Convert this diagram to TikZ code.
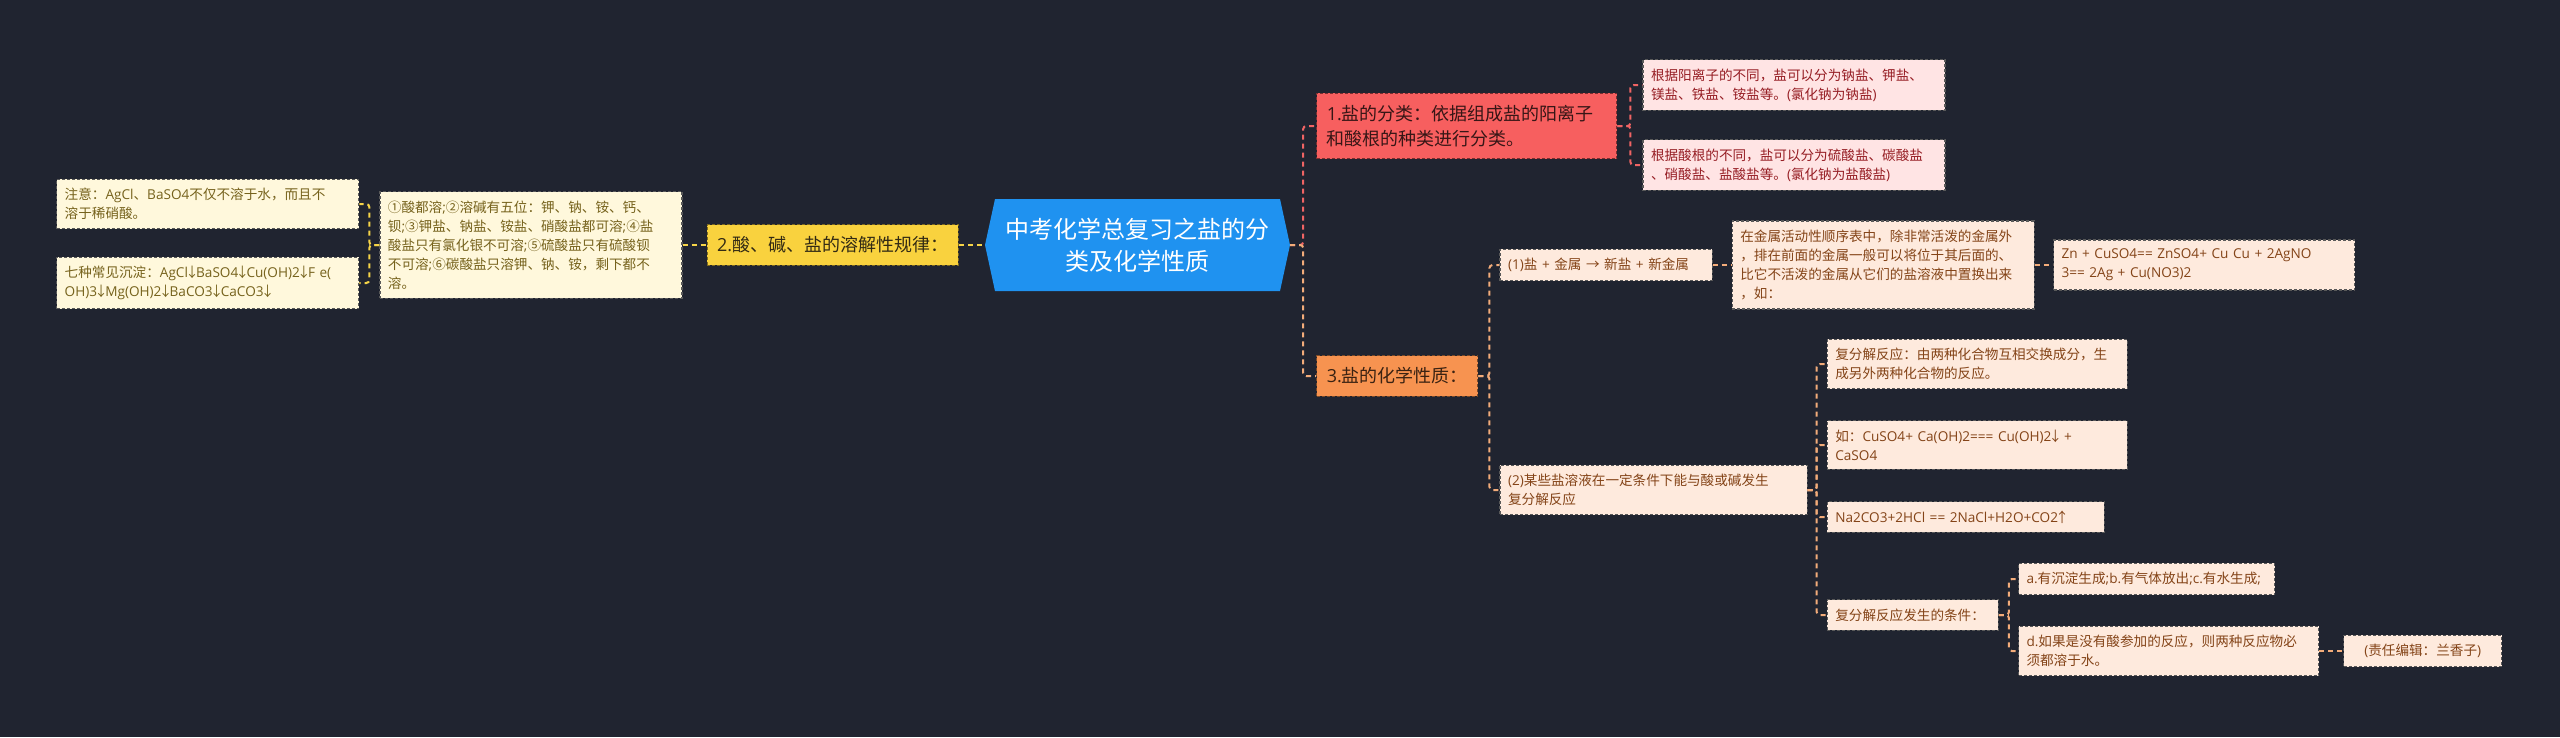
\documentclass[tikz,border=0pt]{standalone}
\usepackage{fontspec}
\setmainfont{Open Sans}
\newfontfamily\cjkfont{Noto Sans CJK SC}
\newfontfamily\latinfont{Open Sans}
\usepackage{tikz}
\usetikzlibrary{positioning}
\usepackage{xcolor}

% switch to the CJK family for Chinese characters, punctuation and arrows
\chardef\cjkcls=10
\newcount\cjkcnt
\def\setcjkrange#1#2{\cjkcnt=#1\relax
  \loop \XeTeXcharclass\cjkcnt=\cjkcls
  \ifnum\cjkcnt<#2\relax \advance\cjkcnt by 1 \repeat}
\setcjkrange{"2190}{"21FF}
\setcjkrange{"2460}{"24FF}
\setcjkrange{"3000}{"303F}
\setcjkrange{"4E00}{"9FFF}
\setcjkrange{"FF00}{"FFEF}
\XeTeXinterchartoks 0 \cjkcls = {\cjkfont}
\XeTeXinterchartoks 4095 \cjkcls = {\cjkfont}
\XeTeXinterchartoks \cjkcls 0 = {\latinfont}
\XeTeXinterchartoks \cjkcls 4095 = {\latinfont}
\XeTeXinterchartokenstate=1

\definecolor{bgnavy}{RGB}{32,36,48}
\definecolor{rootblue}{RGB}{31,146,240}
\definecolor{yfill}{RGB}{249,210,62}
\definecolor{ytext}{RGB}{50,42,20}
\definecolor{yleaf}{RGB}{255,248,220}
\definecolor{yleaftext}{RGB}{118,98,28}
\definecolor{yline}{RGB}{246,212,72}
\definecolor{rfill}{RGB}{247,95,95}
\definecolor{rtext}{RGB}{55,22,22}
\definecolor{rleaf}{RGB}{255,228,228}
\definecolor{rleaftext}{RGB}{150,30,36}
\definecolor{rline}{RGB}{240,100,100}
\definecolor{ofill}{RGB}{247,147,80}
\definecolor{otext}{RGB}{58,34,18}
\definecolor{oleaf}{RGB}{254,234,221}
\definecolor{oleaftext}{RGB}{132,68,24}
\definecolor{oline}{RGB}{243,172,122}

% narrow arrows inside formulas
\newcommand{\dnarr}{\makebox[0.6em]{↓}}
\newcommand{\uparr}{\makebox[0.6em]{↑}}

\begin{document}
\begin{tikzpicture}[
  x=1pt, y=-1pt,
  rootnode/.style={minimum width=305pt, minimum height=92pt, inner sep=0pt,
                   align=center, text=white, font=\fontsize{24}{32}\selectfont,
                   path picture={\fill[rootblue] (path picture bounding box.west)
                     -- ([xshift=10pt]path picture bounding box.north west)
                     -- ([xshift=-10pt]path picture bounding box.north east)
                     -- (path picture bounding box.east)
                     -- ([xshift=-10pt]path picture bounding box.south east)
                     -- ([xshift=10pt]path picture bounding box.south west) -- cycle;}},
  box/.style={rectangle, line width=1.2pt, dash pattern=on 3pt off 2pt, align=left},
  topic/.style={box, font=\fontsize{18}{25}\selectfont, inner xsep=10pt, inner ysep=12pt},
  leaf/.style={box, font=\fontsize{13.6}{19}\selectfont, inner xsep=8pt, inner ysep=9pt},
  wide/.style={text width=#1},
  ytopic/.style={topic, fill=yfill, draw=yfill!50!black, text=ytext},
  rtopic/.style={topic, fill=rfill, draw=rfill!50!black, text=rtext},
  otopic/.style={topic, fill=ofill, draw=ofill!50!black, text=otext},
  yleafbox/.style={leaf, fill=yleaf, draw=black!65, text=yleaftext},
  rleafbox/.style={leaf, fill=rleaf, draw=black!65, text=rleaftext},
  oleafbox/.style={leaf, fill=oleaf, draw=black!65, text=oleaftext},
  link/.style={line width=2pt, dash pattern=on 5pt off 4pt, rounded corners=3pt},
  ylink/.style={link, draw=yline},
  rlink/.style={link, draw=rline},
  olink/.style={link, draw=oline}
]
\fill[bgnavy] (0,0) rectangle (2560,737);
\useasboundingbox (0,0) rectangle (2560,737);

% centre
\node[rootnode] (root) at (1137.5,245) {中考化学总复习之盐的分\\类及化学性质};

% left branch
\node[ytopic, left=26pt of root] (rules) {2.酸、碱、盐的溶解性规律：};
\node[yleafbox, wide=286pt, left=24pt of rules] (solub) {①酸都溶;②溶碱有五位：钾、钠、铵、钙、\\钡;③钾盐、钠盐、铵盐、硝酸盐都可溶;④盐\\酸盐只有氯化银不可溶;⑤硫酸盐只有硫酸钡\\不可溶;⑥碳酸盐只溶钾、钠、铵，剩下都不\\溶。};
\node[yleafbox, wide=286pt, left=20pt of solub, yshift=41pt] (note) {注意：AgCl、BaSO4不仅不溶于水，而且不\\溶于稀硝酸。};
\node[yleafbox, wide=286pt, left=20pt of solub, yshift=-38pt] (precip) {七种常见沉淀：AgCl\dnarr BaSO4\dnarr Cu(OH)2\dnarr F~e(\\OH)3\dnarr Mg(OH)2\dnarr BaCO3\dnarr CaCO3\dnarr};

% right branch: classification
\node[rtopic, wide=280pt, right=26pt of root, yshift=119pt] (classif) {1.盐的分类：依据组成盐的阳离子\\和酸根的种类进行分类。};
\node[rleafbox, wide=286pt, right=25pt of classif, yshift=41pt] (cation) {根据阳离子的不同，盐可以分为钠盐、钾盐、\\镁盐、铁盐、铵盐等。(氯化钠为钠盐)};
\node[rleafbox, wide=286pt, right=25pt of classif, yshift=-39pt] (anion) {根据酸根的不同，盐可以分为硫酸盐、碳酸盐\\、硝酸盐、盐酸盐等。(氯化钠为盐酸盐)};

% right branch: chemical properties
\node[otopic, right=26pt of root, yshift=-131pt] (props) {3.盐的化学性质：};
\node[oleafbox, wide=196pt, right=21pt of props, yshift=111pt] (metal) {(1)盐 + 金属 → 新盐 + 新金属};
\node[oleafbox, wide=286pt, right=19pt of metal] (displace) {在金属活动性顺序表中，除非常活泼的金属外\\，排在前面的金属一般可以将位于其后面的、\\比它不活泼的金属从它们的盐溶液中置换出来\\，如：};
\node[oleafbox, wide=285pt, right=18pt of displace] (zinc) {Zn + CuSO4== ZnSO4+ Cu Cu + 2AgNO\\3== 2Ag + Cu(NO3)2};
\node[oleafbox, wide=291pt, right=21pt of props, yshift=-114pt] (acidbase) {(2)某些盐溶液在一定条件下能与酸或碱发生\\复分解反应};
\node[oleafbox, wide=284pt, right=19pt of acidbase, yshift=126pt] (exch) {复分解反应：由两种化合物互相交换成分，生\\成另外两种化合物的反应。};
\node[oleafbox, wide=284pt, right=19pt of acidbase, yshift=45pt] (examp) {如：CuSO4+ Ca(OH)2=== Cu(OH)2\dnarr{} +\\CaSO4};
\node[oleafbox, wide=261pt, right=19pt of acidbase, yshift=-27pt] (soda) {Na2CO3+2HCl == 2NaCl+H2O+CO2\uparr};
\node[oleafbox, wide=155pt, right=19pt of acidbase, yshift=-125pt] (cond) {复分解反应发生的条件：};
\node[oleafbox, wide=240pt, right=19pt of cond, yshift=36pt] (condabc) {a.有沉淀生成;b.有气体放出;c.有水生成;};
\node[oleafbox, wide=284pt, right=19pt of cond, yshift=-36pt] (condd) {d.如果是没有酸参加的反应，则两种反应物必\\须都溶于水。};
\node[oleafbox, minimum width=158pt, align=center, right=24pt of condd] (editor) {(责任编辑：兰香子)};

% connectors
\draw[ylink] (rules.east) -- (root.west);
\draw[ylink] (solub.east) -- (rules.west);
\draw[ylink] (solub.west) -- ++(-10,0) |- (note.east);
\draw[ylink] (solub.west) -- ++(-10,0) |- (precip.east);
\draw[rlink] (root.east) -- ++(13,0) |- (classif.west);
\draw[olink] (root.east) -- ++(13,0) |- (props.west);
\draw[rlink] (classif.east) -- ++(13,0) |- (cation.west);
\draw[rlink] (classif.east) -- ++(13,0) |- (anion.west);
\draw[olink] (props.east) -- ++(11,0) |- (metal.west);
\draw[olink] (props.east) -- ++(11,0) |- (acidbase.west);
\draw[olink] (metal.east) -- (displace.west);
\draw[olink] (displace.east) -- (zinc.west);
\draw[olink] (acidbase.east) -- ++(9,0) |- (exch.west);
\draw[olink] (acidbase.east) -- ++(9,0) |- (examp.west);
\draw[olink] (acidbase.east) -- ++(9,0) |- (soda.west);
\draw[olink] (acidbase.east) -- ++(9,0) |- (cond.west);
\draw[olink] (cond.east) -- ++(10,0) |- (condabc.west);
\draw[olink] (cond.east) -- ++(10,0) |- (condd.west);
\draw[olink] (condd.east) -- (editor.west);
\end{tikzpicture}
\end{document}
